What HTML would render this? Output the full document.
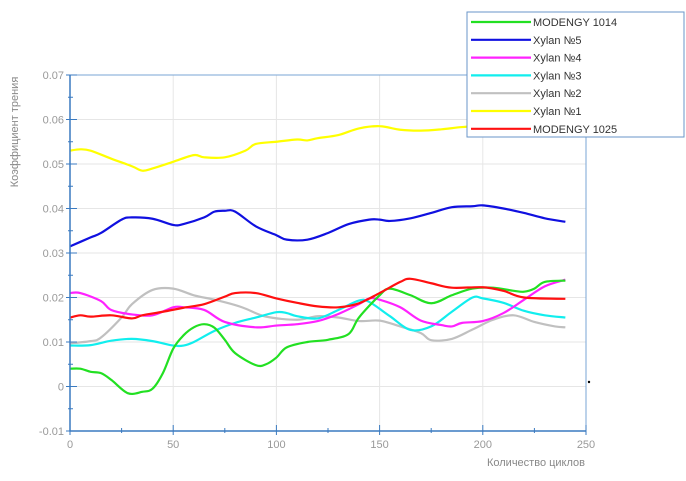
<!DOCTYPE html>
<html><head><meta charset="utf-8"><style>
body{margin:0;background:#fff;width:686px;height:476px;overflow:hidden;font-family:"Liberation Sans","DejaVu Sans",sans-serif}
svg text{font-family:"Liberation Sans","DejaVu Sans",sans-serif}
</style></head><body>
<svg id="chart" width="686" height="476" viewBox="0 0 686 476" xmlns="http://www.w3.org/2000/svg">
<g id="grid"></g>
<g id="series"></g>
<g id="axes"></g>
<text transform="translate(18,132) rotate(-90)" text-anchor="middle" font-size="11" fill="#888">Коэффициент трения</text>
<text x="585" y="466" text-anchor="end" font-size="11" fill="#888">Количество циклов</text>
<g>
<rect x="467" y="12" width="217" height="125" fill="#fff" stroke="#6a95c8" stroke-width="1"/>
<g id="legend-items"></g>
</g>
<circle cx="589" cy="382" r="1.2" fill="#000"/>
</svg>
<script>
const xTicks=[0,50,100,150,200,250];
const yTicks=[-0.01,0,0.01,0.02,0.03,0.04,0.05,0.06,0.07];
const yTickLabels=["-0.01","0","0.01","0.02","0.03","0.04","0.05","0.06","0.07"];
const seriesNames=["MODENGY 1014","Xylan №5","Xylan №4","Xylan №3","Xylan №2","Xylan №1","MODENGY 1025"];
const seriesColors=["#22e022","#1010e0","#ff22ff","#11eeee","#c0c0c0","#ffff00","#ff1010"];
const greenX=[0,5,10,15,20,28,35,40,45,50,55,60,65,70,75,80,90,95,100,105,115,125,135,140,150,155,165,175,185,195,205,215,220,225,230,240];
const greenY=[0.004,0.004,0.0033,0.003,0.0015,-0.0015,-0.0012,-0.0005,0.003,0.0085,0.0115,0.0133,0.014,0.0132,0.0105,0.0075,0.0048,0.005,0.0065,0.0088,0.01,0.0105,0.0118,0.0155,0.0205,0.022,0.0205,0.0187,0.0205,0.022,0.0222,0.0215,0.0213,0.022,0.0235,0.0238];
const blueX=[0,10,15,25,30,40,50,55,65,70,75,80,90,100,105,115,125,135,145,150,155,165,175,185,195,200,210,220,230,240];
const blueY=[0.0315,0.0335,0.0345,0.0375,0.038,0.0377,0.0363,0.0365,0.038,0.0393,0.0395,0.0393,0.036,0.034,0.033,0.033,0.0345,0.0365,0.0375,0.0375,0.0372,0.0378,0.039,0.0403,0.0405,0.0407,0.040,0.039,0.0378,0.037];
const magentaX=[0,5,15,20,30,40,50,55,65,75,90,100,110,120,130,140,145,150,160,170,180,185,190,200,210,220,230,240];
const magentaY=[0.021,0.021,0.0192,0.0172,0.0162,0.016,0.0178,0.0178,0.0172,0.0145,0.0133,0.0137,0.014,0.0147,0.0163,0.0185,0.0198,0.0195,0.0178,0.0148,0.0138,0.0135,0.0143,0.0147,0.0165,0.0195,0.0225,0.024];
const cyanX=[0,10,20,30,40,50,55,60,70,80,90,100,105,110,120,130,140,145,155,165,175,185,195,200,210,220,230,240];
const cyanY=[0.0092,0.0093,0.0103,0.0107,0.0102,0.0092,0.0092,0.01,0.0125,0.0143,0.0155,0.0167,0.0165,0.0158,0.0153,0.0172,0.0193,0.019,0.0158,0.0127,0.0135,0.0168,0.02,0.0198,0.0188,0.017,0.016,0.0155];
const grayX=[0,10,15,25,30,40,50,60,70,80,85,95,110,120,130,140,150,160,170,175,185,195,205,215,225,235,240];
const grayY=[0.0097,0.0102,0.011,0.0155,0.0185,0.0217,0.022,0.0205,0.0195,0.0183,0.0175,0.0157,0.015,0.0158,0.0155,0.0147,0.0148,0.0135,0.012,0.0104,0.0107,0.0128,0.015,0.016,0.0145,0.0135,0.0133];
const yellowX=[0,5,10,20,30,35,40,50,60,65,75,85,90,100,110,115,120,130,140,150,160,170,180,190,200,220,240];
const yellowY=[0.053,0.0533,0.053,0.0512,0.0495,0.0485,0.049,0.0505,0.052,0.0515,0.0515,0.053,0.0545,0.055,0.0555,0.0553,0.0558,0.0565,0.058,0.0585,0.0577,0.0575,0.0578,0.0583,0.0585,0.0588,0.059];
const redX=[0,5,10,20,30,35,45,55,65,75,80,90,100,110,120,130,140,150,160,165,175,185,200,210,220,240];
const redY=[0.0155,0.016,0.0157,0.016,0.0153,0.016,0.0168,0.0177,0.0185,0.0202,0.021,0.021,0.0198,0.0188,0.018,0.0178,0.0187,0.021,0.0235,0.0242,0.0232,0.0222,0.0223,0.0215,0.02,0.0197];

const X0=70,X1=586,Y0=431,Y1=75,XMIN=0,XMAX=250,YMIN=-0.01,YMAX=0.07;
function sx(v){return X0+(v-XMIN)/(XMAX-XMIN)*(X1-X0);}
function sy(v){return Y0-(v-YMIN)/(YMAX-YMIN)*(Y0-Y1);}
const NS="http://www.w3.org/2000/svg";
function mk(tag,attrs,parent){const e=document.createElementNS(NS,tag);for(const k in attrs)e.setAttribute(k,attrs[k]);parent.appendChild(e);return e;}
const grid=document.getElementById('grid'),axes=document.getElementById('axes'),ser=document.getElementById('series');
yTicks.forEach((t,i)=>{
  const l=mk('line',{x1:X0,x2:X1,y1:sy(t),y2:sy(t),stroke:'#e6e6e6','stroke-width':1},grid);
  
  
  const tk=mk('line',{x1:X0-4,x2:X0+7,y1:sy(t),y2:sy(t),stroke:'#3a7ac0','stroke-width':1},axes);
  
  
  const tx=mk('text',{x:X0-6,y:sy(t)+4,'text-anchor':'end','font-size':11,fill:'#999'},axes);
  
  
  tx.textContent=yTickLabels[i];
  if(i<yTicks.length-1){
    const m=mk('line',{x1:X0-2,x2:X0+3,y1:sy(t+0.005),y2:sy(t+0.005),stroke:'#3a7ac0','stroke-width':1},axes);
    
    
  }
});
xTicks.forEach((t,i)=>{
  const l=mk('line',{x1:sx(t),x2:sx(t),y1:Y1,y2:Y0,stroke:'#e6e6e6','stroke-width':1},grid);
  
  
  const tk=mk('line',{x1:sx(t),x2:sx(t),y1:Y0-6,y2:Y0+4,stroke:'#3a7ac0','stroke-width':1},axes);
  
  
  const tx=mk('text',{x:sx(t),y:Y0+17,'text-anchor':'middle','font-size':11,fill:'#999'},axes);
  
  
  tx.textContent=String(t);
  if(i<xTicks.length-1){
    const m=mk('line',{x1:sx(t+25),x2:sx(t+25),y1:Y0-3,y2:Y0+2,stroke:'#3a7ac0','stroke-width':1},axes);
    
    
  }
});
const fr=mk('path',{d:`M${X0} ${Y1}H${X1}V${Y0}`,fill:'none',stroke:'#7aa5d5','stroke-width':1},grid);


const ax=mk('path',{d:`M${X0} ${Y1}V${Y0}H${X1}`,fill:'none',stroke:'#3a7ac0','stroke-width':1.5},axes);


function smooth(xs,ys){
  const p=xs.map((x,i)=>[sx(x),sy(ys[i])]);
  let d=`M${p[0][0]} ${p[0][1]}`;
  for(let i=0;i<p.length-1;i++){
    const p0=p[Math.max(0,i-1)],p1=p[i],p2=p[i+1],p3=p[Math.min(p.length-1,i+2)];
    const c1=[p1[0]+(p2[0]-p0[0])/6,p1[1]+(p2[1]-p0[1])/6],c2=[p2[0]-(p3[0]-p1[0])/6,p2[1]-(p3[1]-p1[1])/6];
    d+=`C${c1[0]} ${c1[1]} ${c2[0]} ${c2[1]} ${p2[0]} ${p2[1]}`;
  }
  return d;
}
const order=[[grayX,grayY,4,'line-xylan-2'],[cyanX,cyanY,3,'line-xylan-3'],[magentaX,magentaY,2,'line-xylan-4'],[yellowX,yellowY,5,'line-xylan-1'],[blueX,blueY,1,'line-xylan-5'],[greenX,greenY,0,'line-modengy-1014'],[redX,redY,6,'line-modengy-1025']];
order.forEach(o=>{
  const p=mk('path',{d:smooth(o[0],o[1]),fill:'none',stroke:seriesColors[o[2]],'stroke-width':2.2,'stroke-linejoin':'round'},ser);
  
  
});
const li=document.getElementById('legend-items');
seriesNames.forEach((n,i)=>{
  const y=22+i*17.8;
  const g=mk('g',{},li);
  
  
  mk('line',{x1:471,x2:531,y1:y,y2:y,stroke:seriesColors[i],'stroke-width':2.2},g);
  const t=mk('text',{x:533,y:y+4,'font-size':11,fill:'#333'},g);
  t.textContent=n;
});
</script>
</body></html>
